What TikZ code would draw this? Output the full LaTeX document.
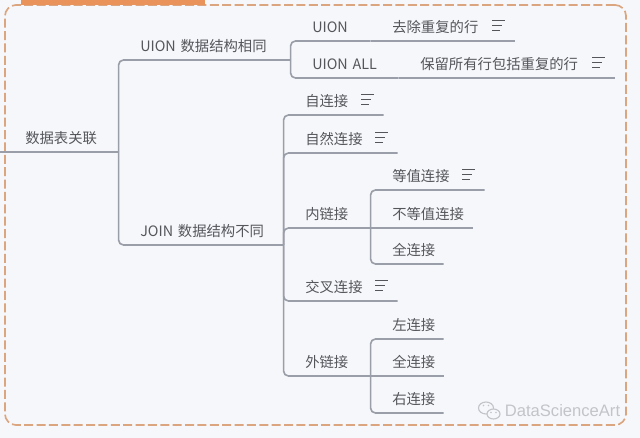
\documentclass[tikz,border=0pt]{standalone}
\usepackage{fontspec}
\setmainfont{Noto Sans CJK SC}
\newfontfamily\markfont{Liberation Sans}
\usepackage{xcolor}
\definecolor{paper}{HTML}{F6F7FA}
\definecolor{linkgray}{HTML}{9A9EA9}
\definecolor{inkgray}{HTML}{55565C}
\definecolor{framebrown}{HTML}{DBA67F}
\definecolor{barorange}{HTML}{E9935A}
\definecolor{markgray}{HTML}{C2C4CA}
\begin{document}
\begin{tikzpicture}[x=0.025cm,y=-0.025cm,font=\fontsize{10.2}{12}\selectfont,text=inkgray,
topic/.style={anchor=south west,text width=#1*0.025cm,align=left,inner xsep=0pt,inner ysep=0pt,
  minimum height=0.75cm,text height=4.2mm,text depth=0.7mm,execute at begin node={\hspace*{0.55cm}}},
link/.style={draw=linkgray,line width=1.15pt,rounded corners=3.5pt},
note/.style={draw=inkgray,line width=0.7pt},
frame/.style={draw=framebrown,line width=1.2pt,dash pattern=on 6.4pt off 2.4pt,rounded corners=8pt,minimum width=15.525cm,minimum height=10.5cm,inner sep=0pt}]
\useasboundingbox (0,0) rectangle (640,438);
\fill[paper] (0,0) rectangle (640,438);
\node[frame] (border) at (315.5,215) {};
\fill[barorange] (21,0) rectangle (205,5);
% first level
\coordinate (start) at (0,152);
\node[topic=115] (root) at (3,152) {数据表关联};
\node[topic=172] (uion) at (118,60) {UION 数据结构相同};
\node[topic=165] (joinb) at (118,245) {JOIN 数据结构不同};
% union side
\node[topic=80] (uionone) at (290,41) {UION};
\node[topic=144] (uniq) at (370,41) {去除重复的行};
\node[topic=108] (uionall) at (290,78) {UION ALL};
\node[topic=216] (keep) at (398,78) {保留所有行包括重复的行};
% join side
\node[topic=100] (selfj) at (283,115) {自连接};
\node[topic=114] (natj) at (283,153) {自然连接};
\node[topic=87] (innerj) at (283,228) {内链接};
\node[topic=114] (crossj) at (283,301) {交叉连接};
\node[topic=87] (outerj) at (283,376) {外链接};
\node[topic=114] (eqj) at (370,190) {等值连接};
\node[topic=102] (neqj) at (370,228) {不等值连接};
\node[topic=73] (fullin) at (370,264) {全连接};
\node[topic=73] (leftj) at (370,339) {左连接};
\node[topic=73] (fullout) at (370,376) {全连接};
\node[topic=73] (rightj) at (370,413) {右连接};
\draw[link] (start)--(root.south east);
\foreach \from/\to in {root/uion,root/joinb,uion/uionone,uion/uionall,
  joinb/selfj,joinb/natj,joinb/innerj,joinb/crossj,joinb/outerj,
  innerj/eqj,innerj/fullin,outerj/leftj,outerj/rightj}
  \draw[link] (\from.south east) |- (\to.south east);
% children on the level of their parent
\foreach \from/\to in {uionone/uniq,uionall/keep,innerj/neqj,outerj/fullout}
  \draw[link] (\from.south east)--(\to.south east);
% three-bar note marks
\foreach \n in {uniq,keep,selfj,natj,eqj,crossj} {
  \draw[note] ([shift={(-22.5,-20.5)}]\n.south east)--++(13,0);
  \draw[note] ([shift={(-22.5,-15.5)}]\n.south east)--++(10,0);
  \draw[note] ([shift={(-22.5,-10.5)}]\n.south east)--++(7.5,0);
}
% watermark
\node[text=markgray,font=\markfont\fontsize{11.8}{13}\selectfont,inner sep=0pt] (mark) at (562.5,411) {DataScienceArt};
\draw[markgray,line width=0.8pt] (486,408) ellipse (7.5 and 6);
\draw[markgray,line width=0.8pt,fill=paper] (493.5,414) ellipse (6.5 and 5);
\fill[markgray] (483.5,405.5) circle (0.9) (488.5,405.5) circle (0.9) (491,412.5) circle (0.8) (496,412.5) circle (0.8);
\end{tikzpicture}
\end{document}
